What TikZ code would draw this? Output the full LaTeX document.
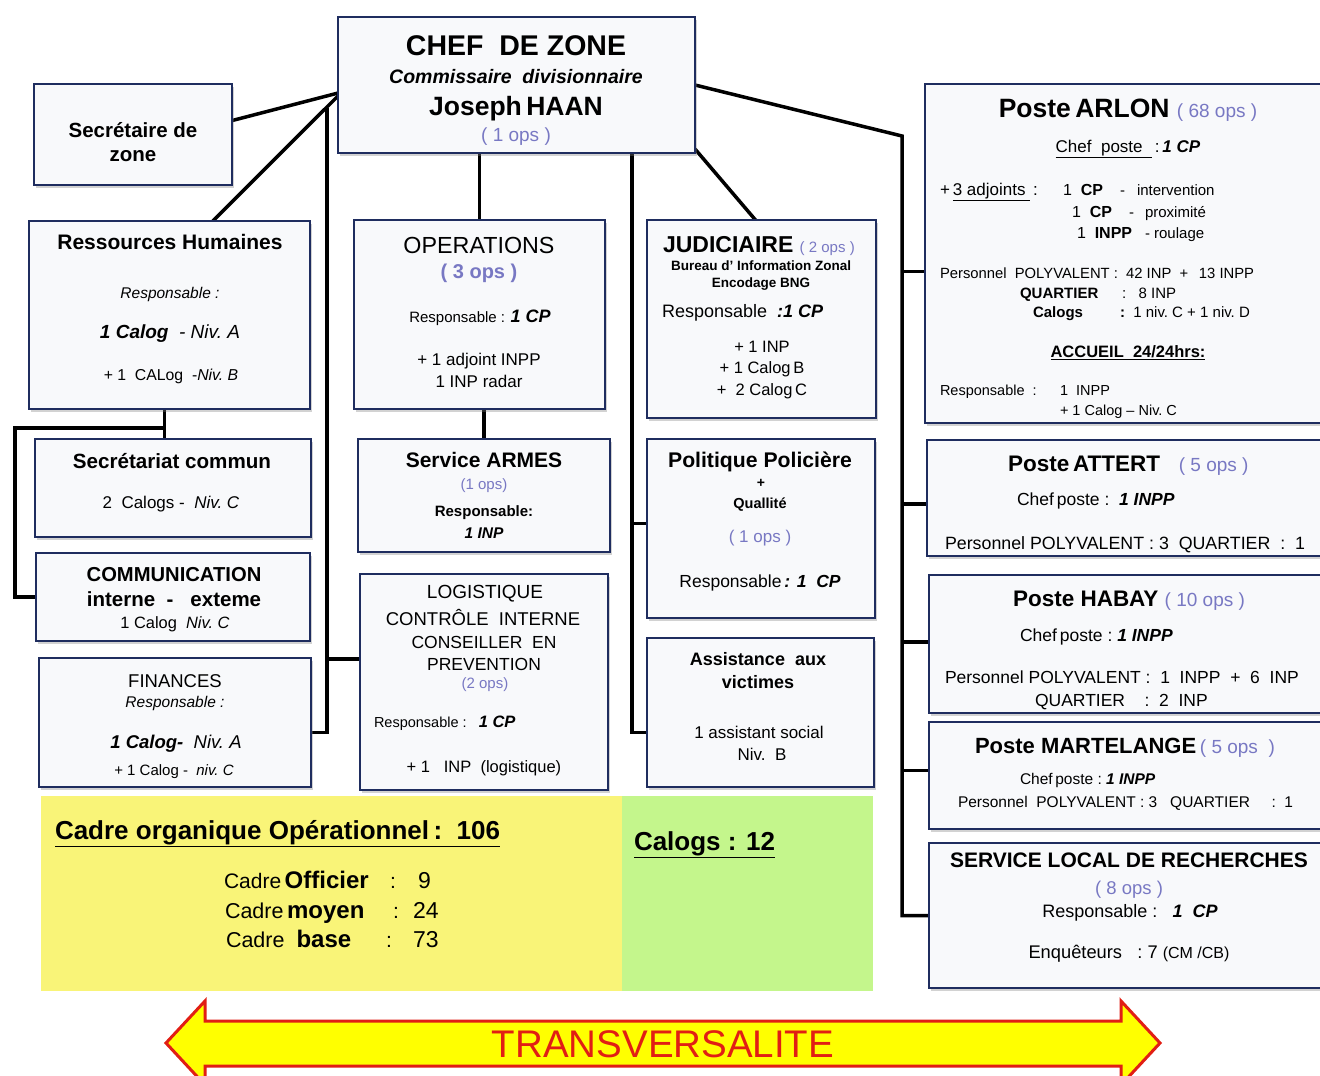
\documentclass[tikz,border=0pt]{standalone}
\usepackage{fontspec}
\setmainfont{Liberation Sans}
\usetikzlibrary{calc,fit,shadows}
\definecolor{navy}{RGB}{31,45,95}
\definecolor{opsc}{RGB}{120,120,195}
\definecolor{boxfill}{RGB}{243,244,247}
\definecolor{bevA}{RGB}{248,249,251}
\definecolor{bevB}{RGB}{232,234,240}
\definecolor{bevC}{RGB}{214,218,228}
\definecolor{yel}{RGB}{249,244,120}
\definecolor{grn}{RGB}{196,246,140}
\definecolor{arrred}{RGB}{225,30,20}
\definecolor{arryel}{RGB}{255,255,0}
\pgfdeclareradialshading{bevel}{\pgfpoint{0bp}{0bp}}{color(0bp)=(bevA); color(38bp)=(bevA); color(50bp)=(bevB); color(72bp)=(bevC)}
\pgfdeclarelayer{back}
\pgfdeclarelayer{bg}
\pgfsetlayers{back,bg,main}
\newcommand\txc[5]{\node[anchor=base,inner sep=0pt,outer sep=0pt] (#1) at (#2,#3) {\fontsize{#4pt}{#4pt}\selectfont #5};}
\newcommand\txl[5]{\node[anchor=base west,inner sep=0pt,outer sep=0pt] (#1) at (#2,#3) {\fontsize{#4pt}{#4pt}\selectfont #5};}
\newcommand\ops[1]{\textcolor{opsc}{#1}}
\newcommand\bx[5]{\node[orgbox, fit={(#2,#3) (#4,#5)}] (#1) {};}
\begin{document}
\begin{tikzpicture}[x=1pt,y=-1pt,
  orgbox/.style={draw=navy, line width=2.5pt, shading=bevel, inner sep=0pt, outer sep=0pt,
    drop shadow={shadow xshift=2pt, shadow yshift=-3pt, opacity=0.35, fill=gray}},
  conn/.style={line width=3.5pt, black}]
\useasboundingbox (0,0) rectangle (1320,1076);
\begin{pgfonlayer}{back}
\fill[white] (0,0) rectangle (1320,1076);
\end{pgfonlayer}

% boxes
\bx{chef}{338}{17}{695}{153}
\bx{sec}{34}{84}{232}{185}
\bx{rh}{29}{221}{310}{409}
\bx{sc}{35}{439}{311}{537}
\bx{com}{36}{553}{310}{641}
\bx{fin}{39}{658}{311}{787}
\bx{ops}{354}{220}{605}{409}
\bx{arm}{358}{439}{610}{552}
\bx{log}{360}{574}{608}{790}
\bx{jud}{647}{220}{876}{418}
\bx{pol}{647}{439}{875}{618}
\bx{ass}{647}{638}{874}{787}
\bx{arl}{925}{84}{1330}{423}
\bx{att}{927}{440}{1330}{556}
\bx{hab}{929}{575}{1330}{713}
\bx{mar}{929}{722}{1330}{829}
\bx{slr}{929}{843}{1330}{988}

% panels
\node[fill=yel, inner sep=0pt, fit={(41,796) (622,991)}] (cadre) {};
\node[fill=grn, inner sep=0pt, fit={(622,796) (873,991)}] (calog) {};

% connectors
\begin{pgfonlayer}{bg}
\coordinate (cj) at (342,92);
\draw[conn] (cj) -- (sec.8);
\draw[conn] (cj) -- ($(rh.north west)!0.654!(rh.north east)$);
\coordinate (lt) at (327,108);
\draw[conn] (lt) |- ($(fin.east)+(0,10)$);
\draw[conn] ($(log.west)+(0,-23)$) -- ++(-33,0);
\coordinate (rhs) at ($(rh.south)+(-5,0)$);
\draw[conn] (rhs) -- (rhs |- sc.north);
\coordinate (lb) at (15,428);
\draw[conn] (rhs |- lb) -- (lb) |- (com.west);
\draw[conn] (ops.north |- chef.south) -- (ops.north);
\draw[conn] (arm.north |- ops.south) -- (arm.north);
\coordinate (mt) at (632,153);
\draw[conn] (mt) |- ($(ass.west)+(0,20)$);
\draw[conn] ($(pol.west)+(5,-5)$) -- ++(-20,0);
\draw[conn] ($(chef.south east)+(0,-4)$) -- ($(jud.north)+(-6,0)$);
\coordinate (rt) at (902,136);
\draw[conn] (chef.east) -- (rt) |- (slr.west);
\draw[conn] ($(arl.west)+(0,18)$) -- ++(-23,0);
\draw[conn] ($(att.west)+(0,6)$) -- ++(-25,0);
\draw[conn] ($(hab.west)+(0,-2)$) -- ++(-27,0);
\draw[conn] ($(mar.west)+(0,-5)$) -- ++(-27,0);
\end{pgfonlayer}

% arrow
\draw[line width=3pt, draw=arrred, fill=arryel, line join=miter] (166,1043) -- (205,1001) -- (205,1021) -- (1121,1021) -- (1121,1001) -- (1160,1043) -- (1121,1085) -- (1121,1066) -- (205,1066) -- (205,1085) -- cycle;

% CHEF
\txc{t1}{516}{55}{28.5}{\bfseries CHEF\ \ DE ZONE}
\txc{t2}{516}{83}{19.5}{\bfseries\itshape Commissaire\ \ divisionnaire}
\txc{t3}{516}{115}{26.5}{\bfseries Joseph\,HAAN}
\txc{t4}{516}{141}{19}{\ops{( 1 ops )}}
% Secretaire
\txc{s1}{133}{137}{20.5}{\bfseries Secrétaire de}
\txc{s2}{133}{161}{20.5}{\bfseries zone}
% RH
\txc{r1}{170}{249}{21}{\bfseries Ressources Humaines}
\txc{r2}{170}{298}{15.5}{\itshape Responsable :}
\txc{r3}{170}{338}{19}{\bfseries\itshape 1 Calog\ \ \mdseries - Niv.\ A}
\txc{r4}{171}{380}{15.8}{+ 1\ \ CALog\ \ -\textit{Niv.\ B}}
% Secretariat commun
\txc{c1}{172}{468}{20.6}{\bfseries Secrétariat commun}
\txc{c2}{171}{508}{17}{2\ \ Calogs -\ \ \textit{Niv.\ C}}
% Communication
\txc{m1}{174}{581}{20.2}{\bfseries COMMUNICATION}
\txc{m2}{174}{606}{20.5}{\bfseries interne\ \ -\ \ \ exteme}
\txc{m3}{175}{628}{16.4}{1 Calog\ \ \textit{Niv.\ C}}
% Finances
\txc{f1}{175}{687}{18.5}{FINANCES}
\txc{f2}{175}{707}{15.5}{\itshape Responsable :}
\txc{f3}{176}{748}{18.5}{\textbf{\textit{1 Calog-}}\ \ \textit{Niv.\ A}}
\txc{f4}{174}{775}{15}{+ 1 Calog -\ \ \textit{niv.\ C}}
% Operations
\txc{o1}{479}{253}{23.3}{OPERATIONS}
\txc{o2}{479}{278}{20}{\bfseries\ops{( 3 ops )}}
\txc{o3}{480}{322}{15}{Responsable : \fontsize{18pt}{18pt}\selectfont\textbf{\textit{1 CP}}}
\txc{o4}{479}{365}{17}{+ 1 adjoint INPP}
\txc{o5}{479}{387}{17}{1 INP radar}
% Armes
\txc{a1}{484}{467}{21}{\bfseries Service ARMES}
\txc{a2}{484}{489}{15}{\ops{(1 ops)}}
\txc{a3}{484}{516}{15}{\bfseries Responsable:}
\txc{a4}{484}{538}{15.5}{\bfseries\itshape 1 INP}
% Logistique
\txc{g1}{485}{598}{19}{LOGISTIQUE}
\txc{g2}{483}{625}{18.5}{CONTRÔLE\ \ INTERNE}
\txc{g3}{484}{648}{17.5}{CONSEILLER\ \ EN}
\txc{g4}{484}{670}{17.5}{PREVENTION}
\txc{g5}{485}{688}{15}{\ops{(2 ops)}}
\txl{g6}{374}{727}{14.5}{Responsable :\ \ \ \fontsize{16.5pt}{16.5pt}\selectfont\textbf{\textit{1 CP}}}
\txc{g7}{484}{772}{16.5}{+ 1\ \ \ INP\ \ (logistique)}
% Judiciaire
\txl{j1}{663}{252}{23}{\textbf{JUDICIAIRE} \fontsize{15pt}{15pt}\selectfont\ops{( 2 ops )}}
\txc{j2}{761}{270}{13.5}{\bfseries Bureau d' Information Zonal}
\txc{j3}{761}{287}{13.5}{\bfseries Encodage BNG}
\txl{j4}{662}{317}{18}{Responsable\ \ \textbf{\textit{:1 CP}}}
\txc{j5}{762}{352}{16.5}{+ 1 INP}
\txc{j6}{762}{373}{16.5}{+ 1 Calog\,B}
\txc{j7}{762}{395}{16.5}{+\ \ 2 Calog\,C}
% Politique
\txc{p1}{760}{467}{21.2}{\bfseries Politique Policière}
\txc{p2}{761}{487}{14}{\bfseries +}
\txc{p3}{760}{508}{14.5}{\bfseries Quallité}
\txc{p4}{760}{542}{17}{\ops{( 1 ops )}}
\txc{p5}{760}{587}{17.5}{Responsable\,\textbf{\textit{: 1\ \ CP}}}
% Assistance
\txc{v1}{758}{665}{18}{\bfseries Assistance\ \ aux}
\txc{v2}{758}{688}{18}{\bfseries victimes}
\txc{v3}{759}{738}{17}{1 assistant social}
\txc{v4}{762}{760}{17}{Niv.\ \ B}
% Arlon
\txc{l1}{1128}{117}{26.5}{\textbf{Poste\,ARLON} \fontsize{19pt}{19pt}\selectfont\ops{( 68 ops )}}
\txc{l2}{1128}{152}{17}{\underline{Chef\ \ poste\ \ }\,:\,\textbf{\textit{1 CP}}}
\txl{l3}{940}{195}{17}{+\,\underline{3 adjoints\ }\,:}
\txl{l4}{1063}{195}{16}{1\ \ \textbf{CP}}
\txl{l5}{1120}{195}{15}{-}
\txl{l6}{1137}{195}{15}{intervention}
\txl{l7}{1072}{217}{16}{1\ \ \textbf{CP}}
\txl{l8}{1129}{217}{15}{-}
\txl{l9}{1145}{217}{15}{proximité}
\txl{l10}{1077}{238}{16}{1\ \ \textbf{INPP}}
\txl{l11}{1145}{238}{15}{-\ roulage}
\txl{l12}{940}{278}{14.8}{Personnel\ \ POLYVALENT\ :\ \ 42 INP\ \ +\ \ \,13 INPP}
\txl{l13}{1020}{298}{15}{\bfseries QUARTIER}
\txl{l14}{1122}{298}{15}{:\ \ \ 8 INP}
\txl{l15}{1033}{317}{15}{\bfseries Calogs}
\txl{l16}{1120}{317}{15}{\textbf{:}\ \ 1 niv.\ C + 1 niv.\ D}
\txc{l17}{1128}{357}{16.5}{\bfseries\underline{ACCUEIL\ \ 24/24hrs:}}
\txl{l18}{940}{395}{14.5}{Responsable\ \ :}
\txl{l19}{1060}{395}{14.5}{1\ \ INPP}
\txl{l20}{1060}{415}{14.5}{+ 1 Calog -- Niv.\ C}
% Attert
\txl{at1}{1008}{471}{22.5}{\textbf{Poste\,ATTERT}\ \ \ \fontsize{19pt}{19pt}\selectfont\ops{( 5 ops )}}
\txl{at2}{1017}{505}{17.5}{Chef\,poste :\ \ \textbf{\textit{1 INPP}}}
\txl{at3}{945}{549}{17.8}{Personnel POLYVALENT : 3\ \ QUARTIER\ \ :\ \ 1}
% Habay
\txl{h1}{1013}{606}{22.5}{\textbf{Poste HABAY} \fontsize{19pt}{19pt}\selectfont\ops{( 10 ops )}}
\txl{h2}{1020}{641}{17.5}{Chef\,poste :\ \textbf{\textit{1 INPP}}}
\txl{h3}{945}{683}{17.5}{Personnel POLYVALENT :\ \ 1\ \ INPP\ \ +\ \ 6\ \ INP}
\txl{h4}{1035}{706}{17.5}{QUARTIER\ \ \ \ :\ \ 2\ \ INP}
% Martelange
\txl{mr1}{975}{753}{22}{\textbf{Poste MARTELANGE}\,\fontsize{19pt}{19pt}\selectfont\ops{( 5 ops\ \ )}}
\txl{mr2}{1020}{784}{15.5}{Chef\,poste :\ \textbf{\textit{1 INPP}}}
\txl{mr3}{958}{807}{15.5}{Personnel\ \ POLYVALENT : 3\ \ \ QUARTIER\ \ \ \ \ :\ \ 1}
% SLR
\txc{sl1}{1129}{867}{21}{\bfseries SERVICE LOCAL DE RECHERCHES}
\txc{sl2}{1129}{894}{18.5}{\ops{( 8 ops )}}
\txc{sl3}{1130}{917}{18}{Responsable\ :\ \ \ \textbf{\textit{1\ \ CP}}}
\txc{sl4}{1129}{958}{18.3}{Enquêteurs\ \ \ :\ 7 \fontsize{16pt}{16pt}\selectfont(CM /CB)}
% Bottom
\txl{b1}{55}{839}{26}{\bfseries\underline{Cadre organique Opérationnel\,:\ \ 106}}
\txl{b2}{224}{888}{21}{Cadre\,\fontsize{24pt}{24pt}\selectfont\bfseries Officier}
\txl{b2c}{390}{888}{21}{:}
\txl{b2n}{418}{888}{23}{9}
\txl{b3}{225}{918}{21.5}{Cadre\,\fontsize{24pt}{24pt}\selectfont\bfseries moyen}
\txl{b3c}{393}{918}{21}{:}
\txl{b3n}{413}{918}{23}{24}
\txl{b4}{226}{947}{21.5}{Cadre\ \ \fontsize{24pt}{24pt}\selectfont\bfseries base}
\txl{b4c}{386}{947}{21}{:}
\txl{b4n}{413}{947}{23}{73}
\txl{b5}{634}{850}{26}{\bfseries\underline{Calogs : 12}}
\txc{b6}{663}{1057}{38.5}{\color{arrred}TRANSVERSALITE}
\end{tikzpicture}
\end{document}
